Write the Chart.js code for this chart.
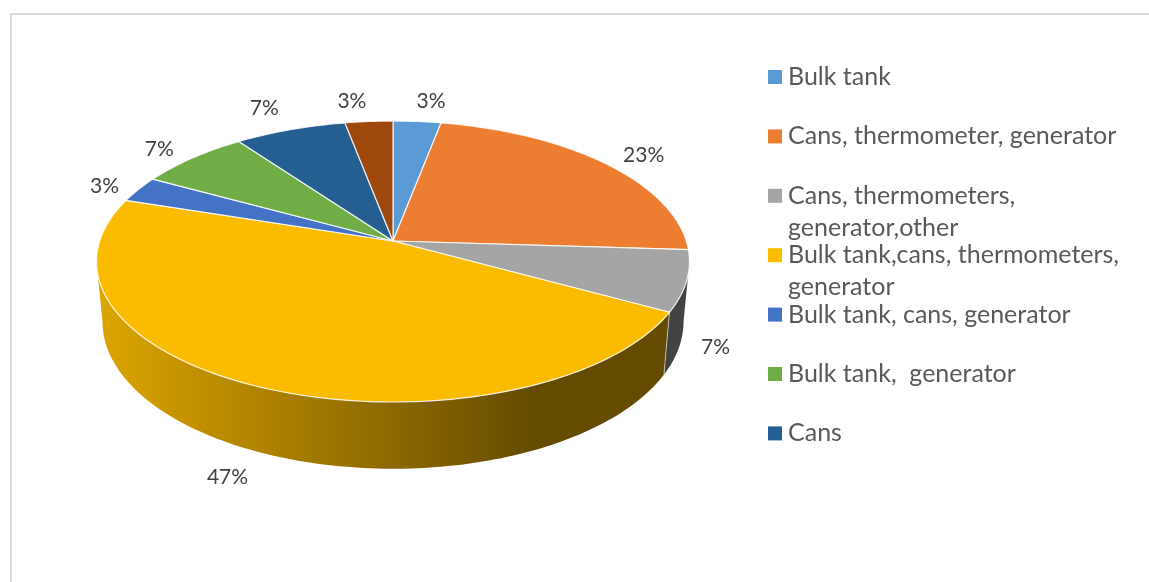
<!DOCTYPE html>
<html>
<head>
<meta charset="utf-8">
<title>Milk handling equipment</title>
<script src="https://cdn.jsdelivr.net/npm/chart.js@4"></script>
<style>
    html, body { margin: 0; padding: 0; background: #fff; overflow: hidden; }
    #wrap { position: relative; width: 1149px; height: 582px; }
    #frame {
        position: absolute; left: 10px; top: 13px; right: 0; bottom: 0;
        border-left: 2px solid #d9d9d9; border-top: 2px solid #d9d9d9;
    }
    canvas { position: absolute; left: 0; top: 0; }
</style>
</head>
<body>
<div id="wrap">
    <div id="frame"></div>
    <canvas id="pie" width="1149" height="582"></canvas>
</div>
<script>
// --- Data ---
const categories = [
    'Bulk tank',
    'Cans, thermometer, generator',
    'Cans, thermometers, generator,other',
    'Bulk tank,cans, thermometers, generator',
    'Bulk tank, cans, generator',
    'Bulk tank,  generator',
    'Cans',
    ''
];
const percents = [3, 23, 7, 47, 3, 7, 7, 3];
const colors = ['#5b9bd5', '#ed7d31', '#a5a5a5', '#fbbc00', '#4472c4', '#70ad47', '#255e91', '#9e480e'];

// Legend rows, wrapped by hand
const legendLines = [
    ['Bulk tank'],
    ['Cans, thermometer, generator'],
    ['Cans, thermometers,', 'generator,other'],
    ['Bulk tank,cans, thermometers,', 'generator'],
    ['Bulk tank, cans, generator'],
    ['Bulk tank,  generator'],
    ['Cans']
];

// --- Tilted disc geometry ---
const disc = { cx: 393, cy: 241, a: 293.3, b: 137.5, p: 0.146, floorY: 300, floorX: 0.98, floorB: 1.048 };

function topPoint(angle) {
    const u = Math.cos(angle), v = Math.sin(angle), w = 1 - disc.p * v;
    return [disc.cx + disc.a * u / w, disc.cy + disc.b * v / w];
}

function floorPoint(angle) {
    const u = Math.cos(angle), v = Math.sin(angle), w = 1 - disc.p * v;
    return [disc.cx + disc.floorX * disc.a * u / w, disc.floorY + disc.floorB * disc.b * v / w];
}

function shade(hex, f) {
    const n = parseInt(hex.slice(1), 16);
    return `rgb(${Math.round((n >> 16) * f)},${Math.round(((n >> 8) & 255) * f)},${Math.round((n & 255) * f)})`;
}

function wallGradient(ctx, hex) {
    const g = ctx.createLinearGradient(97, 0, 535, 0);
    g.addColorStop(0, shade(hex, 0.88));
    g.addColorStop(1, shade(hex, 0.4));
    return g;
}

// Only the part of the rim facing the viewer gets a wall
function drawWall(ctx, arc) {
    const edge = Math.asin(disc.p);
    const from = Math.max(arc.startAngle, edge);
    const to = Math.min(arc.endAngle, Math.PI - edge);
    if (to <= from) return;
    const steps = Math.max(4, Math.ceil((to - from) / 0.02));
    ctx.beginPath();
    for (let i = 0; i <= steps; i++) {
        const p = topPoint(from + (to - from) * i / steps);
        ctx.lineTo(p[0], p[1]);
    }
    for (let i = steps; i >= 0; i--) {
        const p = floorPoint(from + (to - from) * i / steps);
        ctx.lineTo(p[0], p[1]);
    }
    ctx.closePath();
    ctx.fillStyle = wallGradient(ctx, arc.options.backgroundColor);
    ctx.fill();
}

function drawWallSeam(ctx, angle) {
    if (Math.sin(angle) < disc.p) return;
    const t = topPoint(angle), f = floorPoint(angle);
    ctx.strokeStyle = 'rgba(255,255,255,0.55)';
    ctx.lineWidth = 1;
    ctx.beginPath();
    ctx.moveTo(t[0], t[1]);
    ctx.lineTo(f[0], f[1]);
    ctx.stroke();
}

function drawTop(ctx, arc) {
    const from = arc.startAngle, to = arc.endAngle;
    const steps = Math.max(4, Math.ceil((to - from) / 0.02));
    ctx.beginPath();
    ctx.moveTo(disc.cx, disc.cy);
    for (let i = 0; i <= steps; i++) {
        const p = topPoint(from + (to - from) * i / steps);
        ctx.lineTo(p[0], p[1]);
    }
    ctx.closePath();
    ctx.fillStyle = arc.options.backgroundColor;
    ctx.fill();
    ctx.strokeStyle = 'rgba(255,255,255,0.85)';
    ctx.lineWidth = 1.2;
    ctx.lineJoin = 'round';
    ctx.stroke();
}

// --- Plugins ---
const tiltedPie = {
    id: 'tiltedPie',
    beforeDatasetDraw(chart, args) {
        const arcs = chart.getDatasetMeta(args.index).data;
        const ctx = chart.ctx;
        ctx.save();
        arcs.forEach(arc => drawWall(ctx, arc));
        arcs.forEach(arc => drawWallSeam(ctx, arc.startAngle));
        arcs.forEach(arc => drawTop(ctx, arc));
        ctx.restore();
        return false;
    }
};

const pieLabels = {
    id: 'pieLabels',
    afterDatasetsDraw(chart, args, opts) {
        const ctx = chart.ctx;
        const arcs = chart.getDatasetMeta(0).data;
        ctx.save();
        ctx.font = opts.font;
        ctx.fillStyle = opts.color;
        ctx.textAlign = 'center';
        ctx.textBaseline = 'middle';
        arcs.forEach((arc, i) => {
            const p = topPoint((arc.startAngle + arc.endAngle) / 2);
            const off = opts.offsets[i];
            ctx.fillText(`${percents[i]}%`, p[0] + off[0], p[1] + off[1]);
        });
        ctx.restore();
    }
};

const sideLegend = {
    id: 'sideLegend',
    afterDraw(chart, args, opts) {
        const ctx = chart.ctx;
        ctx.save();
        ctx.font = opts.font;
        ctx.textAlign = 'left';
        ctx.textBaseline = 'alphabetic';
        legendLines.forEach((lines, i) => {
            const y = opts.top + opts.step * i;
            ctx.fillStyle = colors[i];
            ctx.fillRect(opts.x, y - 7, 14, 14);
            ctx.fillStyle = opts.color;
            lines.forEach((line, n) => {
                ctx.fillText(line, opts.textX, y + 8 + n * opts.lineHeight);
            });
        });
        ctx.restore();
    }
};

// --- Chart ---
new Chart(document.getElementById('pie'), {
    type: 'pie',
    data: {
        labels: categories,
        datasets: [{ data: percents, backgroundColor: colors, borderWidth: 0 }]
    },
    options: {
        responsive: false,
        animation: false,
        events: [],
        plugins: {
            legend: { display: false },
            tooltip: { enabled: false },
            pieLabels: {
                font: '21px Lato',
                color: '#404040',
                offsets: [[14, -20], [38, -8], [29, 66], [-31, 91], [-34, -3], [-33, -9], [-26, -21], [-17, -20]]
            },
            sideLegend: { font: '25px Lato', color: '#595959', x: 768, textX: 788, top: 77, step: 59.4, lineHeight: 32 }
        }
    },
    plugins: [tiltedPie, pieLabels, sideLegend]
});
</script>
</body>
</html>
